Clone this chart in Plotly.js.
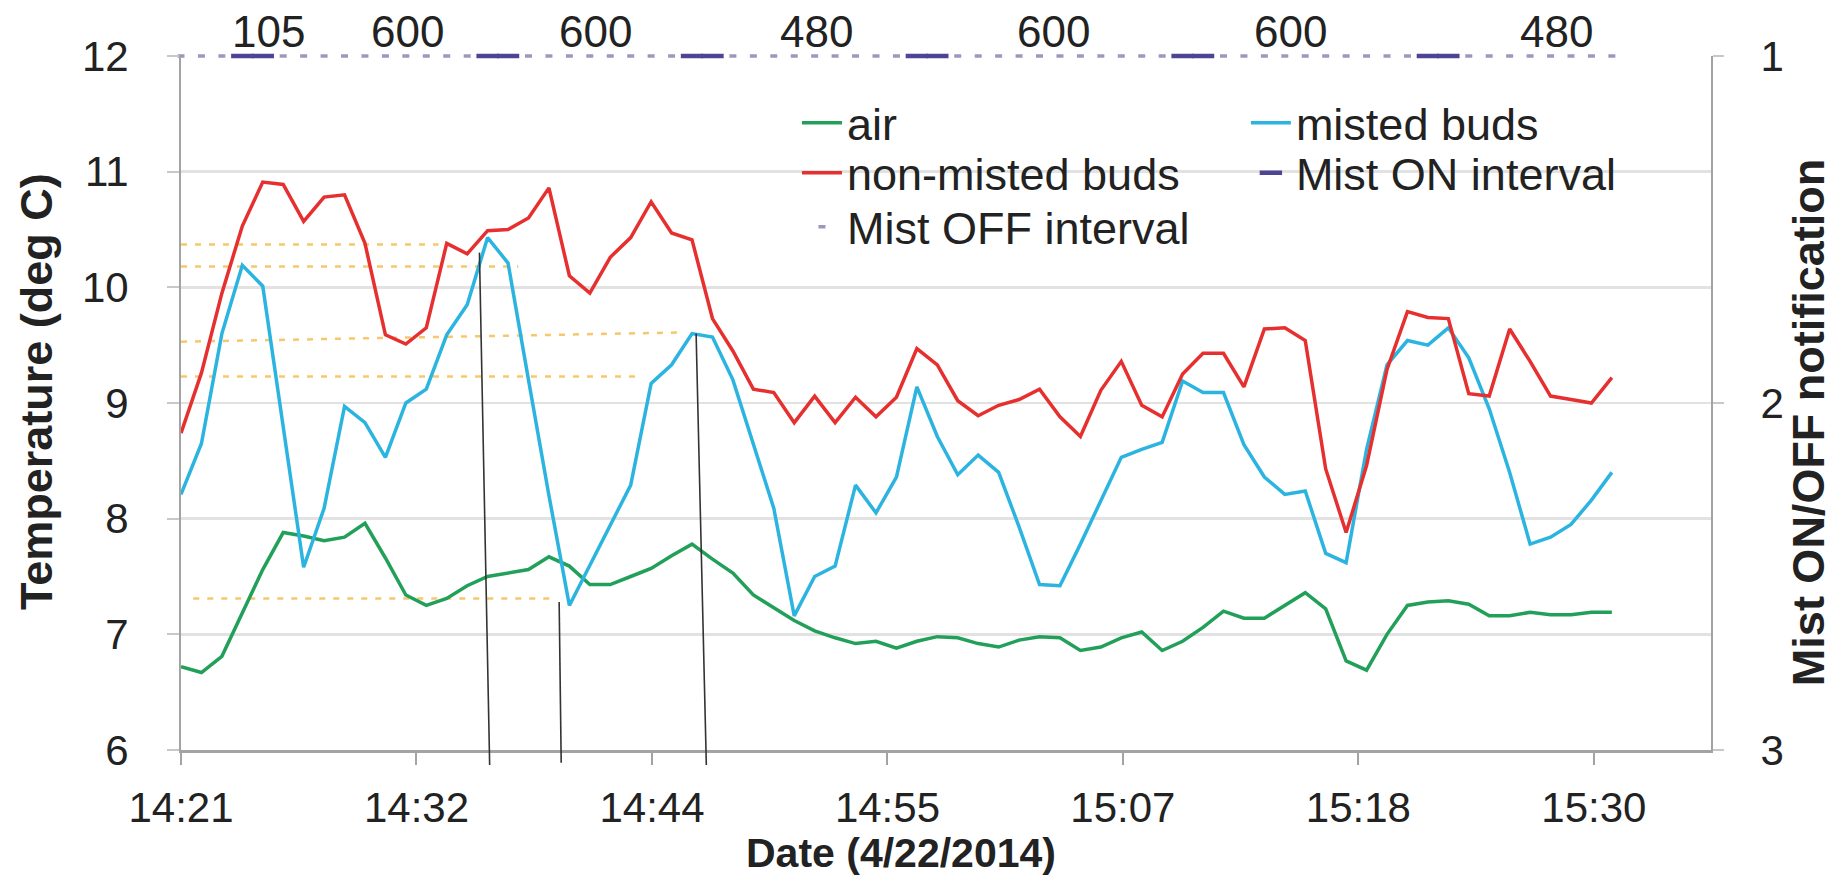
<!DOCTYPE html>
<html>
<head>
<meta charset="utf-8">
<script src="https://cdn.plot.ly/plotly-3.0.1.min.js"></script>
<style>
  html, body { margin: 0; padding: 0; background: #ffffff; }
  #chart { width: 1843px; height: 878px; }
</style>
</head>
<body>
<div id="chart"></div>
<script>
// ---------- data (one sample per minute, starting 14:21 on 4/22/2014) ----------
const sampleStepMin = 1;
const air = [6.72, 6.67, 6.81, 7.19, 7.56, 7.88, 7.85, 7.81, 7.84, 7.96,
             7.66, 7.34, 7.25, 7.31, 7.42, 7.50, 7.53, 7.56, 7.67, 7.59,
             7.43, 7.43, 7.50, 7.57, 7.68, 7.78, 7.65, 7.53, 7.34, 7.23,
             7.12, 7.03, 6.97, 6.92, 6.94, 6.88, 6.94, 6.98, 6.97, 6.92,
             6.89, 6.95, 6.98, 6.97, 6.86, 6.89, 6.97, 7.02, 6.86, 6.94,
             7.06, 7.20, 7.14, 7.14, 7.25, 7.36, 7.22, 6.77, 6.69, 7.00,
             7.25, 7.28, 7.29, 7.26, 7.16, 7.16, 7.19, 7.17, 7.17, 7.19,
             7.19];
const mistedBuds = [8.21, 8.65, 9.60, 10.19, 10.01, 8.80, 7.58, 8.09, 8.97, 8.83,
                    8.53, 9.00, 9.12, 9.59, 9.85, 10.43, 10.21, 9.20, 8.20, 7.25,
                    7.60, 7.95, 8.29, 9.17, 9.33, 9.60, 9.57, 9.20, 8.64, 8.09,
                    7.16, 7.50, 7.59, 8.29, 8.05, 8.36, 9.14, 8.71, 8.38, 8.55,
                    8.40, 7.93, 7.43, 7.42, 7.78, 8.16, 8.53, 8.60, 8.66, 9.19,
                    9.09, 9.09, 8.64, 8.36, 8.21, 8.24, 7.70, 7.62, 8.60, 9.33,
                    9.54, 9.50, 9.65, 9.39, 8.95, 8.40, 7.78, 7.84, 7.95, 8.16,
                    8.40];
const nonMistedBuds = [8.74, 9.26, 9.95, 10.53, 10.91, 10.89, 10.57, 10.78, 10.80, 10.38,
                       9.59, 9.51, 9.65, 10.38, 10.29, 10.49, 10.50, 10.60, 10.86, 10.10,
                       9.95, 10.26, 10.43, 10.74, 10.47, 10.41, 9.73, 9.45, 9.12, 9.09,
                       8.83, 9.06, 8.83, 9.05, 8.88, 9.05, 9.47, 9.33, 9.02, 8.89,
                       8.98, 9.03, 9.12, 8.88, 8.71, 9.11, 9.36, 8.98, 8.88, 9.25,
                       9.43, 9.43, 9.14, 9.64, 9.65, 9.54, 8.43, 7.88, 8.46, 9.29,
                       9.79, 9.74, 9.73, 9.08, 9.06, 9.64, 9.36, 9.06, 9.03, 9.00,
                       9.22];
// minutes (after 14:21) at which the mist was ON; every other sample is OFF
const mistOnMinutes = [3, 4, 15, 16, 25, 26, 36, 37, 49, 50, 61, 62];
const notificationLevel = 1;

// x-axis ticks (Excel major unit 0.008 day = 11.52 min)
const tickLabels = ['14:21', '14:32', '14:44', '14:55', '15:07', '15:18', '15:30'];
const majorUnitMin = 11.52;
const axisEndMin = 74.85;

// interval length labels (s) written above the chart, at minutes after 14:21
const intervalLabels = ['105', '600', '600', '480', '600', '600', '480'];
const intervalLabelMin = [4.3, 11.1, 20.3, 31.1, 42.7, 54.3, 67.3];

// dashed reference levels: [xStartMin, yStart, xEndMin, yEnd]
const refLines = [
  [0.0, 10.37, 12.6, 10.37],
  [0.0, 10.18, 16.5, 10.18],
  [0.0, 9.53, 24.6, 9.61],
  [0.0, 9.23, 22.4, 9.23],
  [0.6, 7.31, 18.3, 7.31]
];
// thin black pointer lines: [xTopMin, yTop, xBottomMin, yBottom]
const pointerLines = [
  [14.6, 10.30, 15.1, 5.87],
  [18.5, 7.28, 18.6, 5.89],
  [25.2, 9.60, 25.7, 5.87]
];

// ---------- build ----------
const minutes = air.map((_, i) => i * sampleStepMin);
const offMinutes = minutes.filter(m => mistOnMinutes.indexOf(m) < 0);
const tickVals = tickLabels.map((_, k) => k * majorUnitMin);

const FONT = 'Liberation Sans, Arial, Helvetica, sans-serif';
const yMin = 6, yMax = 12;
const toPaperX = m => m / axisEndMin;
const toPaperY = v => (v - yMin) / (yMax - yMin);

const traces = [
  { x: minutes, y: air, name: 'air', type: 'scatter', mode: 'lines',
    line: { color: '#22a05a', width: 3.5 }, legend: 'legend' },
  { x: minutes, y: mistedBuds, name: 'misted buds', type: 'scatter', mode: 'lines',
    line: { color: '#2cb4e0', width: 3.5 }, legend: 'legend4' },
  { x: minutes, y: nonMistedBuds, name: 'non-misted buds', type: 'scatter', mode: 'lines',
    line: { color: '#e6302f', width: 3.5 }, legend: 'legend2' },
  { x: mistOnMinutes, y: mistOnMinutes.map(() => notificationLevel), name: 'Mist ON interval',
    type: 'scatter', mode: 'markers', yaxis: 'y2', cliponaxis: false,
    marker: { symbol: 'line-ew', size: 16, line: { color: '#4e4494', width: 4.5 } }, legend: 'legend5' },
  { x: offMinutes, y: offMinutes.map(() => notificationLevel), name: 'Mist OFF interval',
    type: 'scatter', mode: 'markers', yaxis: 'y2', cliponaxis: false,
    marker: { symbol: 'line-ew', size: 5, line: { color: '#9e97bb', width: 3.5 } }, legend: 'legend3' }
];

const shapes = [];
refLines.forEach(r => shapes.push({
  type: 'line', xref: 'x', yref: 'y', x0: r[0], y0: r[1], x1: r[2], y1: r[3],
  line: { color: 'rgba(243,180,60,0.75)', width: 2.5, dash: '6px,8px' }, layer: 'below'
}));
pointerLines.forEach(p => shapes.push({
  type: 'line', xref: 'paper', yref: 'paper',
  x0: toPaperX(p[0]), y0: toPaperY(p[1]), x1: toPaperX(p[2]), y1: toPaperY(p[3]),
  line: { color: '#333333', width: 1.6 }
}));

const annotations = intervalLabels.map((t, k) => ({
  text: t, x: intervalLabelMin[k], xref: 'x', y: 1.036, yref: 'paper',
  showarrow: false, xanchor: 'center', yanchor: 'middle',
  font: { family: FONT, size: 44, color: '#222' }
}));
annotations.push({
  text: 'Date (4/22/2014)', xref: 'paper', yref: 'paper', x: 0.4706, y: -0.1484,
  showarrow: false, xanchor: 'center', yanchor: 'middle',
  font: { family: FONT, size: 41, color: '#222', weight: 'bold' }
});
annotations.push({
  text: 'Temperature (deg C)', xref: 'paper', yref: 'paper', x: -0.0941, y: 0.516,
  showarrow: false, xanchor: 'center', yanchor: 'middle', textangle: -90,
  font: { family: FONT, size: 45, color: '#222', weight: 'bold' }
});
annotations.push({
  text: 'Mist ON/OFF notification', xref: 'paper', yref: 'paper', x: 1.0634, y: 0.471,
  showarrow: false, xanchor: 'center', yanchor: 'middle', textangle: -90,
  font: { family: FONT, size: 45, color: '#222', weight: 'bold' }
});

const legendBase = (x, y) => ({
  x: x, y: y, xanchor: 'left', yanchor: 'middle', bgcolor: 'rgba(0,0,0,0)',
  font: { family: FONT, size: 45, color: '#222' }, itemwidth: 40, tracegroupgap: 0
});

const layout = {
  width: 1843, height: 878,
  margin: { l: 181, r: 132, t: 56, b: 128 },
  paper_bgcolor: '#ffffff', plot_bgcolor: '#ffffff',
  font: { family: FONT, size: 42, color: '#222' },
  xaxis: {
    range: [0, axisEndMin], tickvals: tickVals, ticktext: tickLabels,
    showgrid: false, zeroline: false, showline: true, linecolor: '#a3a3a3', linewidth: 2.5,
    ticks: 'outside', ticklen: 12, tickwidth: 2, tickcolor: '#a3a3a3',
    ticklabelstandoff: 7, tickfont: { family: FONT, size: 42, color: '#222' }
  },
  yaxis: {
    range: [yMin, yMax], dtick: 1, tick0: 6,
    showgrid: true, gridcolor: '#e2e2e2', gridwidth: 2.5, zeroline: false,
    showline: true, linecolor: '#a3a3a3', linewidth: 2,
    ticks: 'outside', ticklen: 12, tickwidth: 2, tickcolor: '#c8c8c8',
    ticklabelstandoff: 30, tickfont: { family: FONT, size: 42, color: '#222' }
  },
  yaxis2: {
    overlaying: 'y', side: 'right', range: [3, 1], dtick: 1, tick0: 1,
    showgrid: false, zeroline: false, showline: true, linecolor: '#a3a3a3', linewidth: 2,
    ticks: 'outside', ticklen: 11, tickwidth: 2, tickcolor: '#c8c8c8',
    ticklabelstandoff: 28, tickfont: { family: FONT, size: 42, color: '#222' }
  },
  legend: legendBase(0.4026, 0.9035),
  legend2: legendBase(0.4026, 0.8314),
  legend3: legendBase(0.4026, 0.7536),
  legend4: legendBase(0.696, 0.9035),
  legend5: legendBase(0.696, 0.8314),
  showlegend: true,
  shapes: shapes,
  annotations: annotations
};

Plotly.newPlot('chart', traces, layout, { displayModeBar: false, staticPlot: true });
</script>
</body>
</html>
